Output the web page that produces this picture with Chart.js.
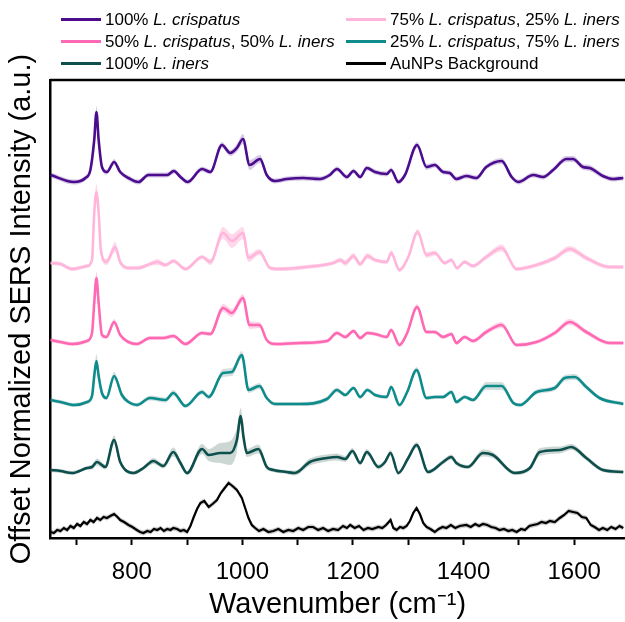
<!DOCTYPE html>
<html>
<head>
<meta charset="utf-8">
<script src="https://cdn.jsdelivr.net/npm/chart.js@4.4.0/dist/chart.umd.min.js"></script>
<style>
  body { margin: 0; background: #fff; }
  #wrap { position: relative; width: 625px; height: 622px; }
  .item { position: absolute; font-family: "Liberation Sans", Arial, sans-serif; font-size: 17px; color: #000; white-space: nowrap; line-height: 19px; }
  .item .sw { display: inline-block; width: 40px; height: 3px; vertical-align: middle; margin-right: 4px; position: relative; top: -1px; }
</style>
</head>
<body>
<div id="wrap">
  <canvas id="chart" width="625" height="622"></canvas>
  <div class="item" style="left:61px;top:10px"><span class="sw" style="background:#4b0c8e"></span>100% <i>L. crispatus</i></div>
  <div class="item" style="left:346px;top:10px"><span class="sw" style="background:#ffb6da"></span>75% <i>L. crispatus</i>, 25% <i>L. iners</i></div>
  <div class="item" style="left:61px;top:32px"><span class="sw" style="background:#ff69b4"></span>50% <i>L. crispatus</i>, 50% <i>L. iners</i></div>
  <div class="item" style="left:346px;top:32px"><span class="sw" style="background:#0e8c8c"></span>25% <i>L. crispatus</i>, 75% <i>L. iners</i></div>
  <div class="item" style="left:61px;top:54px"><span class="sw" style="background:#0d4f4d"></span>100% <i>L. iners</i></div>
  <div class="item" style="left:346px;top:54px"><span class="sw" style="background:#000"></span>AuNPs Background</div>
</div>
<script>
// offset spectra, values already include the stacking offset
const cr100Wn = [653,695,716,725,732,736,740,746,755,768,
  779,794,812,830,864,876,888,901,927,942,
  963,978,990,1001,1013,1032,1044,1059,1080,1110,
  1140,1158,1171,1189,1201,1213,1225,1240,1261,1269,
  1282,1294,1316,1333,1348,1363,1375,1387,1405,1423,
  1441,1469,1487,1499,1526,1544,1562,1586,1598,1616,
  1628,1652,1670,1689];
const cr100 = [3.63,3.56,3.60,3.68,3.98,4.26,3.98,3.71,3.66,3.76,
  3.66,3.60,3.56,3.63,3.63,3.67,3.61,3.56,3.69,3.66,
  3.93,3.85,3.90,3.99,3.73,3.79,3.63,3.57,3.59,3.60,
  3.59,3.63,3.69,3.61,3.67,3.61,3.70,3.66,3.64,3.68,
  3.56,3.63,3.93,3.71,3.73,3.66,3.65,3.59,3.62,3.60,
  3.71,3.77,3.61,3.56,3.63,3.61,3.68,3.79,3.79,3.71,
  3.70,3.62,3.59,3.60];
const cr100Sd = [0.025,0.025,0.025,0.03,0.05,0.06,0.05,0.03,0.025,0.03,
  0.025,0.025,0.025,0.025,0.025,0.025,0.025,0.025,0.025,0.025,
  0.03,0.03,0.04,0.05,0.05,0.04,0.025,0.025,0.025,0.025,
  0.025,0.025,0.025,0.025,0.025,0.025,0.025,0.025,0.025,0.025,
  0.025,0.025,0.03,0.03,0.025,0.025,0.025,0.025,0.025,0.025,
  0.025,0.03,0.025,0.025,0.025,0.025,0.025,0.03,0.03,0.03,
  0.03,0.025,0.025,0.025];

const cr75Wn = [653,671,692,719,728,732,736,740,744,754,
  770,779,794,812,833,846,861,875,897,927,
  942,965,981,1001,1011,1031,1050,1068,1116,1164,
  1177,1186,1201,1213,1226,1240,1261,1269,1284,1300,
  1317,1333,1348,1366,1378,1388,1402,1417,1441,1469,
  1496,1532,1565,1592,1622,1664,1689];
const cr75 = [2.75,2.74,2.69,2.72,2.78,3.25,3.46,3.25,2.88,2.76,
  2.91,2.76,2.70,2.70,2.74,2.76,2.73,2.77,2.69,2.81,
  2.76,3.05,2.97,3.05,2.80,2.86,2.70,2.69,2.71,2.75,
  2.78,2.75,2.82,2.74,2.82,2.78,2.76,2.85,2.68,2.81,
  3.06,2.83,2.85,2.75,2.78,2.70,2.76,2.72,2.81,2.90,
  2.69,2.73,2.80,2.89,2.80,2.71,2.71];
const cr75Sd = [0.02,0.02,0.02,0.02,0.03,0.06,0.08,0.06,0.04,0.03,
  0.05,0.03,0.02,0.02,0.02,0.03,0.02,0.02,0.02,0.02,
  0.03,0.06,0.07,0.06,0.04,0.03,0.02,0.02,0.02,0.02,
  0.025,0.03,0.03,0.025,0.03,0.02,0.02,0.03,0.02,0.02,
  0.03,0.03,0.025,0.02,0.02,0.02,0.02,0.02,0.025,0.035,
  0.02,0.02,0.025,0.03,0.025,0.02,0.02];

const cr50Wn = [653,671,692,719,728,732,736,740,746,754,
  768,779,794,809,833,857,875,897,927,942,
  965,981,1001,1013,1031,1044,1059,1104,1153,1171,
  1186,1201,1213,1226,1240,1261,1269,1284,1298,1316,
  1333,1348,1363,1378,1387,1402,1417,1441,1469,1496,
  1532,1565,1592,1622,1664,1689];
const cr50 = [1.98,1.96,1.94,1.97,2.05,2.35,2.60,2.35,2.03,2.01,
  2.16,2.03,1.96,1.94,2.00,2.00,2.02,1.94,2.05,2.04,
  2.30,2.25,2.40,2.13,2.13,1.98,1.94,1.95,1.97,2.05,
  2.01,2.07,2.00,2.05,2.04,2.01,2.08,1.93,2.05,2.31,
  2.06,2.06,2.01,2.04,1.95,2.01,1.97,2.06,2.13,1.93,
  1.96,2.05,2.16,2.06,1.95,1.95];
const cr50Sd = [0.02,0.02,0.02,0.02,0.03,0.05,0.07,0.05,0.03,0.02,
  0.03,0.02,0.02,0.02,0.02,0.02,0.02,0.02,0.02,0.02,
  0.04,0.04,0.04,0.04,0.03,0.02,0.02,0.02,0.02,0.02,
  0.02,0.02,0.02,0.02,0.02,0.02,0.02,0.02,0.02,0.03,
  0.02,0.02,0.02,0.02,0.02,0.02,0.02,0.025,0.03,0.02,
  0.02,0.025,0.03,0.025,0.02,0.02];

const cr25Wn = [653,671,695,719,728,732,736,740,746,754,
  768,782,794,809,833,861,875,897,927,939,
  965,981,999,1011,1031,1044,1059,1104,1153,1171,
  1186,1201,1213,1226,1240,1261,1269,1284,1298,1315,
  1333,1348,1363,1378,1387,1402,1417,1441,1469,1490,
  1502,1532,1565,1583,1601,1622,1646,1689];
const cr25 = [1.38,1.36,1.33,1.36,1.42,1.62,1.77,1.62,1.45,1.40,
  1.62,1.43,1.36,1.33,1.40,1.38,1.45,1.32,1.46,1.41,
  1.65,1.66,1.83,1.48,1.52,1.40,1.34,1.34,1.39,1.48,
  1.43,1.50,1.41,1.48,1.43,1.41,1.51,1.33,1.46,1.68,
  1.40,1.41,1.41,1.46,1.36,1.41,1.38,1.52,1.52,1.35,
  1.33,1.46,1.50,1.60,1.61,1.51,1.40,1.34];
const cr25Sd = [0.02,0.02,0.02,0.02,0.03,0.05,0.07,0.05,0.03,0.02,
  0.04,0.03,0.02,0.02,0.025,0.025,0.03,0.02,0.025,0.025,
  0.04,0.04,0.04,0.03,0.03,0.02,0.02,0.02,0.025,0.025,
  0.02,0.02,0.02,0.02,0.02,0.02,0.02,0.02,0.02,0.03,
  0.02,0.02,0.02,0.02,0.02,0.02,0.02,0.04,0.04,0.02,
  0.02,0.025,0.025,0.03,0.03,0.025,0.02,0.02];

const in100Wn = [653,671,692,719,728,737,752,768,779,803,
  821,839,857,875,888,900,927,939,960,978,
  990,997,1002,1008,1029,1044,1056,1080,1095,1122,
  1153,1171,1186,1199,1213,1225,1246,1258,1268,1282,
  1300,1315,1336,1363,1378,1387,1408,1435,1453,1493,
  1520,1538,1574,1595,1622,1652,1689];
const in100 = [0.68,0.67,0.65,0.70,0.71,0.76,0.71,0.98,0.76,0.65,
  0.70,0.77,0.72,0.86,0.75,0.65,0.89,0.83,0.85,0.85,
  0.98,1.22,1.01,0.85,0.89,0.71,0.68,0.66,0.65,0.76,
  0.80,0.81,0.79,0.87,0.75,0.86,0.71,0.76,0.85,0.65,
  0.80,0.93,0.66,0.76,0.81,0.75,0.71,0.85,0.83,0.65,
  0.70,0.86,0.88,0.91,0.80,0.68,0.66];
const in100Sd = [0.02,0.02,0.02,0.02,0.025,0.035,0.025,0.045,0.025,0.02,
  0.02,0.03,0.025,0.045,0.03,0.02,0.05,0.06,0.10,0.12,
  0.12,0.08,0.06,0.04,0.045,0.025,0.02,0.02,0.025,0.035,
  0.035,0.035,0.03,0.03,0.025,0.03,0.025,0.025,0.03,0.02,
  0.025,0.03,0.02,0.025,0.025,0.025,0.02,0.035,0.03,0.02,
  0.025,0.04,0.035,0.03,0.025,0.02,0.02];

const aunpWn = [653,659,665,671,677,683,689,695,701,707,
  713,719,725,731,737,743,749,755,761,768,
  774,779,786,794,801,809,815,821,828,834,
  840,846,852,858,864,870,875,882,888,894,
  900,906,912,918,924,931,939,946,954,961,
  968,975,982,990,999,1005,1011,1017,1023,1030,
  1038,1047,1056,1065,1074,1083,1092,1101,1110,1119,
  1128,1137,1146,1155,1164,1173,1182,1189,1195,1203,
  1211,1219,1227,1235,1246,1253,1260,1268,1273,1279,
  1285,1291,1297,1303,1309,1315,1321,1327,1333,1340,
  1348,1355,1362,1369,1377,1385,1393,1405,1413,1421,
  1428,1435,1443,1450,1458,1465,1473,1481,1488,1496,
  1504,1511,1519,1526,1534,1541,1549,1556,1565,1574,
  1582,1590,1598,1606,1614,1622,1630,1637,1645,1652,
  1660,1667,1675,1682,1689];
const aunp = [0.06,0.05,0.08,0.07,0.10,0.08,0.12,0.10,0.14,0.12,
  0.16,0.14,0.18,0.16,0.20,0.18,0.21,0.20,0.22,0.24,
  0.21,0.18,0.16,0.13,0.11,0.08,0.06,0.05,0.07,0.06,
  0.09,0.08,0.10,0.07,0.09,0.08,0.10,0.09,0.07,0.08,
  0.06,0.12,0.21,0.29,0.35,0.37,0.31,0.34,0.38,0.45,
  0.50,0.55,0.52,0.48,0.40,0.30,0.20,0.13,0.10,0.07,
  0.09,0.06,0.07,0.09,0.06,0.08,0.07,0.10,0.08,0.11,
  0.11,0.08,0.10,0.07,0.09,0.08,0.12,0.10,0.13,0.10,
  0.12,0.08,0.10,0.09,0.11,0.10,0.13,0.18,0.10,0.08,
  0.11,0.10,0.12,0.17,0.25,0.30,0.24,0.15,0.11,0.09,
  0.06,0.09,0.11,0.10,0.13,0.10,0.12,0.13,0.11,0.14,
  0.12,0.14,0.13,0.11,0.10,0.08,0.09,0.07,0.08,0.06,
  0.09,0.08,0.12,0.13,0.14,0.16,0.15,0.17,0.16,0.20,
  0.23,0.27,0.26,0.25,0.21,0.20,0.13,0.11,0.08,0.10,
  0.08,0.11,0.09,0.12,0.10];
const aunpSd = 0.025;

const xTicks = [800, 1000, 1200, 1400, 1600];

function spectrum(wn, vals, sd, color, band, width, smooth) {
  const sdAt = i => Array.isArray(sd) ? sd[i] : sd;
  const tension = smooth ? 0.4 : 0;
  const mode = smooth ? 'monotone' : 'default';
  return [
    { data: wn.map((x, i) => ({ x: x, y: vals[i] + sdAt(i) })), borderWidth: 0, pointRadius: 0,
      fill: false, tension: tension, cubicInterpolationMode: mode, order: 2 },
    { data: wn.map((x, i) => ({ x: x, y: vals[i] - sdAt(i) })), borderWidth: 0, pointRadius: 0,
      fill: '-1', backgroundColor: band, tension: tension, cubicInterpolationMode: mode, order: 2 },
    { data: wn.map((x, i) => ({ x: x, y: vals[i] })), borderColor: color, borderWidth: width,
      pointRadius: 0, fill: false, tension: tension, cubicInterpolationMode: mode, order: 1 }
  ];
}

const datasets = [].concat(
  spectrum(cr100Wn, cr100, cr100Sd, '#4b0c8e', 'rgba(75,12,142,0.22)', 2.6, true),
  spectrum(cr75Wn, cr75, cr75Sd, '#ffb6da', 'rgba(255,170,210,0.45)', 2.6, true),
  spectrum(cr50Wn, cr50, cr50Sd, '#ff69b4', 'rgba(255,105,180,0.3)', 2.6, true),
  spectrum(cr25Wn, cr25, cr25Sd, '#0e8c8c', 'rgba(110,150,145,0.3)', 2.6, true),
  spectrum(in100Wn, in100, in100Sd, '#0d4f4d', 'rgba(110,140,130,0.35)', 2.6, true),
  spectrum(aunpWn, aunp, aunpSd, '#000000', 'rgba(0,0,0,0.2)', 2.2, false)
);

// top frame line of the plot box
const topFrame = {
  id: 'topFrame',
  afterDraw(chart) {
    const a = chart.chartArea, ctx = chart.ctx;
    ctx.save();
    ctx.strokeStyle = '#000';
    ctx.lineWidth = 2.5;
    ctx.beginPath();
    ctx.moveTo(a.left, a.top);
    ctx.lineTo(a.right, a.top);
    ctx.stroke();
    ctx.restore();
  }
};

new Chart(document.getElementById('chart'), {
  type: 'line',
  data: { datasets: datasets },
  options: {
    responsive: false,
    animation: false,
    layout: { padding: { top: 80, right: 0, left: 0, bottom: 0 } },
    plugins: { legend: { display: false }, tooltip: { enabled: false } },
    scales: {
      x: {
        type: 'linear',
        min: 652,
        max: 1692,
        afterFit: s => { s.height = 84; },
        ticks: {
          stepSize: 100,
          includeBounds: false,
          color: '#000',
          font: { family: 'Liberation Sans', size: 24 },
          padding: 13,
          maxRotation: 0,
          autoSkip: false,
          callback: v => xTicks.includes(v) ? v : ''
        },
        grid: { display: true, drawOnChartArea: false, drawTicks: true, tickLength: 7, tickWidth: 2, tickColor: '#000' },
        border: { color: '#000', width: 2.5 },
        title: { display: true, text: 'Wavenumber (cm⁻¹)', color: '#000',
          font: { family: 'Liberation Sans', size: 29 }, padding: { top: 0, bottom: 0 } }
      },
      y: {
        min: 0,
        max: 4.58,
        afterFit: s => { s.width = 50; },
        ticks: { display: false },
        grid: { display: false },
        border: { color: '#000', width: 2.5 },
        title: { display: true, text: 'Offset Normalized SERS Intensity (a.u.)', color: '#000',
          font: { family: 'Liberation Sans', size: 29 }, padding: { top: 5, bottom: 0 } }
      }
    }
  },
  plugins: [topFrame]
});
</script>
</body>
</html>
